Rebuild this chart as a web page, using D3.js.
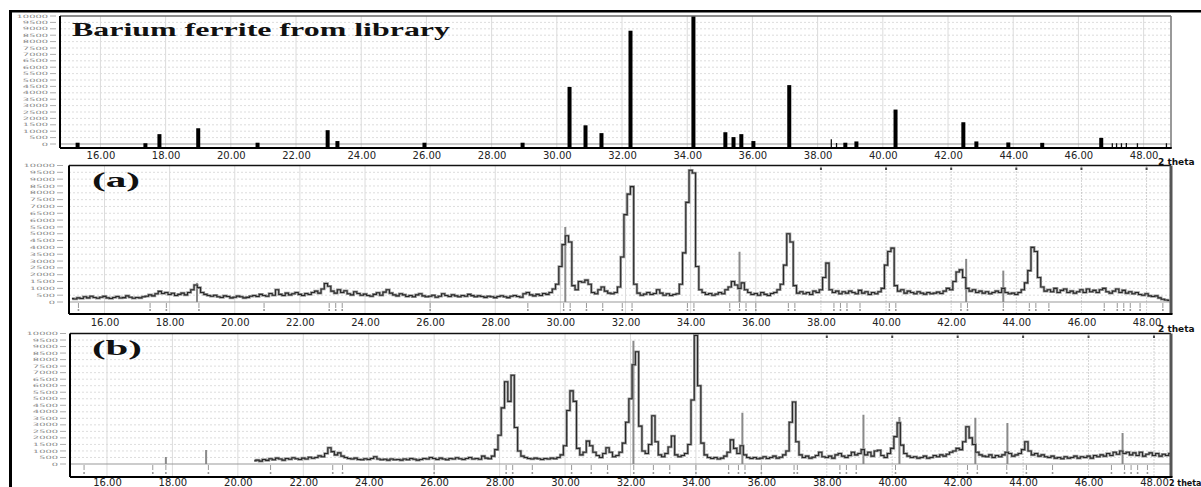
<!DOCTYPE html>
<html>
<head>
<meta charset="utf-8">
<script src="https://cdn.jsdelivr.net/npm/d3@7"></script>
<style>
  body{margin:0;background:#fff;}
  svg{display:block;}
  .xlab text{font-family:"DejaVu Sans",sans-serif;font-size:10px;fill:#222;}
  .ylab{font-family:"DejaVu Sans",sans-serif;font-size:9px;fill:#8a8a8a;}
  .theta{font-family:"DejaVu Sans",sans-serif;font-weight:bold;fill:#111;}
  .title{font-family:"Liberation Serif",serif;font-weight:bold;fill:#111;}
</style>
</head>
<body>
<svg id="chart" width="1201" height="487"></svg>
<script>
// ---------- data ----------
var xTicks = [16, 18, 20, 22, 24, 26, 28, 30, 32, 34, 36, 38, 40, 42, 44, 46, 48];
var yTicks = [0, 500, 1000, 1500, 2000, 2500, 3000, 3500, 4000, 4500, 5000,
              5500, 6000, 6500, 7000, 7500, 8000, 8500, 9000, 9500, 10000];

// library reflections (2 theta, intensity)
var libPos = [15.3, 17.38, 17.81, 19.0, 20.82, 22.97, 23.27, 25.94, 28.95, 30.39, 30.88, 31.37,
              32.26, 34.19, 35.17, 35.42, 35.66, 36.03, 37.13, 38.85, 39.19, 40.39, 42.47,
              42.87, 43.85, 44.89, 46.7];
var libInt = [100, 60, 770, 1230, 100, 1080, 230, 100, 100, 4460, 1460, 850,
              8850, 10000, 920, 540, 770, 230, 4600, 100, 200, 2690, 1700,
              200, 120, 90, 480];
// weak library lines
var libMinorPos = [38.42, 38.58, 47.04, 47.17, 47.32, 47.47, 47.81, 48.7];
var libMinorInt = [380, 80, 60, 60, 60, 80, 60, 60];

// sample (a): step scan from 15.0, 0.1 deg steps
var scanAStart = 15.0, scanAStep = 0.1;
var scanA = [
  250, 220, 300, 260, 380, 300, 420, 330, 280, 350,
  410, 300, 260, 330, 400, 290, 320, 450, 350, 280,
  330, 300, 380, 420, 520, 450, 600, 780, 620, 700,
  550, 640, 480, 560, 650, 520, 700, 900, 1250, 1050,
  700, 560, 480, 420, 500, 380, 330, 450, 400, 300,
  350, 430, 380, 300, 340, 420, 480, 400, 560, 480,
  420, 620, 500, 900, 560, 480, 650, 520, 600, 700,
  560, 480, 620, 550, 700, 800, 650, 950, 1350, 1150,
  800, 650, 900, 700, 820, 600, 520, 750, 620, 500,
  580, 480, 420, 560, 680, 500, 720, 900, 650, 520,
  450, 600, 520, 400, 480, 380, 520, 600, 450, 380,
  420, 500, 350, 420, 600, 480, 400, 520, 450, 380,
  480, 420, 560, 470, 380, 450, 400, 340, 420, 380,
  320, 400, 460, 380, 320, 420, 480, 400, 350, 600,
  700, 520, 450, 560, 480, 620, 560, 700, 950, 1300,
  2600, 4200, 4850, 4400, 1200, 900, 1500, 1450, 1600, 1300,
  700, 600, 900, 1100, 800, 650, 600, 700, 1100, 3300,
  6400, 7900, 8450, 1300, 650, 500, 580, 700, 550, 620,
  900, 650, 500, 600, 480, 550, 600, 1300, 3600, 7300,
  9650, 9450, 2600, 900, 700, 550, 620, 500, 580, 700,
  600, 900, 1100, 1500, 1250, 1000, 1400, 900, 700, 550,
  620, 500, 700, 560, 480, 620, 700, 900, 1300, 2700,
  5000, 4400, 1200, 650, 750, 600, 700, 550, 800, 700,
  900, 1800, 2850, 900, 700, 800, 600, 750, 650, 800,
  700, 600, 850, 650, 750, 550, 700, 600, 750, 1000,
  2700, 3700, 3950, 1200, 800, 900, 650, 800, 700, 600,
  750, 650, 580, 700, 600, 650, 720, 620, 800, 1000,
  900, 1500, 2200, 2350, 1800, 1000, 800, 900, 700, 800,
  650, 750, 600, 700, 800, 700, 1000, 700, 600, 650,
  550, 700, 900, 1400, 2300, 4000, 3700, 1800, 1100, 800,
  900, 750, 1000, 700, 850, 950, 700, 800, 650, 750,
  900, 700, 950, 750, 850, 700, 900, 1000, 750, 650,
  800, 950, 700, 850, 650, 750, 600, 700, 550, 500,
  600, 450, 400, 450, 300, 200, 150, 120
];
var sticksA = [[18.84, 1400], [30.15, 5500], [35.5, 3680], [42.46, 3160], [43.6, 2300]];
var markersA = [15.2, 17.4, 17.9, 18.9, 20.9, 22.9, 23.1, 23.3, 26.0, 29.0, 30.1, 30.3, 30.8,
                31.3, 31.9, 32.2, 33.9, 34.1, 35.2, 35.5, 35.7, 36.0, 37.0, 37.2, 38.4, 38.6,
                38.8, 39.2, 40.1, 40.3, 42.3, 42.5, 43.6, 44.4, 44.6, 45.0, 46.7, 47.1, 47.3,
                47.5, 47.8, 48.5];

// sample (b): step scan from 20.5, 0.1 deg steps
var scanBStart = 20.5, scanBStep = 0.1;
var scanB = [
  250, 300, 220, 350, 280,
  400, 320, 450, 380, 300, 420, 360, 480, 400, 350,
  450, 380, 520, 440, 500, 620, 560, 800, 1250, 950,
  700, 850, 600, 500, 420, 380, 450, 350, 320, 400,
  350, 420, 550, 380, 320, 360, 300, 380, 320, 350,
  300, 380, 330, 420, 360, 300, 350, 420, 380, 500,
  420, 350, 450, 380, 330, 420, 380, 480, 400, 350,
  420, 500, 380, 420, 360, 600, 450, 400, 600, 1100,
  2200, 4300, 6300, 4800, 6800, 2800, 1000, 600, 500, 420,
  380, 450, 400, 350, 420, 380, 450, 400, 500, 700,
  1400, 4100, 5600, 4800, 1200, 700, 900, 1750, 1400, 900,
  650, 500, 800, 1250, 900, 550, 650, 900, 1600, 3200,
  5000, 7600, 8600, 2900, 1000, 800, 1500, 3700, 1700, 700,
  550, 800, 1300, 2150, 700, 550, 650, 800, 1500, 4900,
  9850, 6000, 1600, 700, 500, 420, 500, 380, 450, 600,
  900, 1850, 1200, 800, 1400, 700, 500, 420, 500, 400,
  450, 550, 420, 500, 600, 450, 520, 700, 1000, 3200,
  4750, 1700, 700, 500, 600, 450, 520, 650, 900, 550,
  500, 600, 450, 700, 800, 600, 500, 650, 900, 700,
  800, 1100, 700, 900, 600, 1000, 1050, 650, 500, 800,
  1200, 2100, 3150, 1450, 800, 600, 500, 550, 450, 500,
  600, 450, 500, 650, 550, 700, 600, 750, 900, 1000,
  1200, 1100, 1700, 2850, 2000, 1500, 900, 700, 600, 550,
  700, 500, 650, 550, 700, 900, 800, 600, 700, 800,
  1100, 1700, 1000, 700, 800, 600, 700, 550, 500, 600,
  450, 500, 400, 550, 450, 500, 600, 450, 550, 500,
  600, 450, 650, 550, 700, 600, 800, 650, 900, 750,
  1000, 800, 900, 700, 850, 650, 900, 600, 750, 850,
  650, 800, 600, 750, 650, 800, 700
];
var sticksB = [[17.8, 540], [19.03, 1080], [32.09, 9450], [35.42, 3920], [39.12, 3770],
               [40.22, 3600], [42.54, 3540], [43.52, 3150], [47.04, 2380]];
var markersB = [15.3, 17.4, 17.8, 19.1, 21.0, 22.9, 23.2, 26.0, 28.2, 28.4, 29.0, 30.2, 30.8,
                31.3, 32.1, 32.7, 33.2, 34.0, 35.0, 35.3, 35.5, 36.0, 37.0, 37.1, 38.4, 38.6,
                38.9, 40.1, 42.3, 42.6, 43.5, 44.1, 44.9, 46.7, 47.1, 47.3, 47.5, 47.8];

// ---------- layout ----------
var svg = d3.select('#chart');

var panels = [
  {id: 'lib', left: 60, right: 1171, top: 16, bottom: 148, zeroY: 144, domain: [14.76, 48.84],
   labelPad: 3.5, labRight: 48, title: 'Barium ferrite from library', titleX: 72, titleY: 35.5,
   titleSize: 18, titleLen: 378, thetaX: 1158, thetaY: 164.5, thetaSize: 9,
   topColor: '#666', rightColor: '#777', rightW: 1.5},
  {id: 'a', left: 69, right: 1171, top: 165.5, bottom: 314, zeroY: 302, domain: [14.91, 48.75],
   labelPad: 4.5, labRight: 55, title: '(a)', titleX: 92, titleY: 187, titleSize: 22, titleLen: 48,
   thetaX: 1158, thetaY: 331.5, thetaSize: 9, topColor: '#111', rightColor: '#555', rightW: 3,
   scan: scanA, start: scanAStart, step: scanAStep, sticks: sticksA, markers: markersA},
  {id: 'b', left: 70, right: 1171, top: 333.5, bottom: 477, zeroY: 464, domain: [14.87, 48.52],
   labelPad: 1.5, labRight: 58, title: '(b)', titleX: 92, titleY: 355, titleSize: 22, titleLen: 50,
   thetaX: 1169, thetaY: 485.5, thetaSize: 8, topColor: '#111', rightColor: '#555', rightW: 3,
   scan: scanB, start: scanBStart, step: scanBStep, sticks: sticksB, markers: markersB}
];

panels.forEach(function(p){
  var x = d3.scaleLinear().domain(p.domain).range([p.left, p.right]);
  var y = d3.scaleLinear().domain([0, 10000]).range([p.zeroY, p.top]);
  var g = svg.append('g').attr('class', 'panel-' + p.id);

  g.append('clipPath').attr('id', 'clip-' + p.id)
    .append('rect')
    .attr('x', p.left).attr('y', p.top - 1)
    .attr('width', p.right - p.left).attr('height', p.bottom - p.top + 1);

  // Horizontal dotted grid
  g.selectAll('.hgrid')
    .data(yTicks.filter(function(d){ return d > 0 && d < 10000; }))
    .enter().append('line')
    .attr('x1', p.left).attr('x2', p.right)
    .attr('y1', function(d){ return y(d); }).attr('y2', function(d){ return y(d); })
    .attr('stroke', '#d4d4d4').attr('stroke-width', 0.8).attr('stroke-dasharray', '2,2');

  // Vertical grid
  g.selectAll('.vgrid')
    .data(xTicks)
    .enter().append('line')
    .attr('x1', function(d){ return x(d); }).attr('x2', function(d){ return x(d); })
    .attr('y1', p.top).attr('y2', p.bottom)
    .attr('stroke', function(d){ return (p.id !== 'lib' && d >= 38) ? '#aaa' : '#dcdcdc'; })
    .attr('stroke-width', 1)
    .attr('stroke-dasharray', function(d){ return (p.id !== 'lib' && d >= 38) ? '1,2' : null; });

  if(p.id !== 'lib'){
    g.selectAll('.topmark')
      .data(xTicks.filter(function(d){ return d >= 38; }))
      .enter().append('rect')
      .attr('x', function(d){ return x(d) - 1; })
      .attr('y', p.top + 2).attr('width', 2).attr('height', 2.5)
      .attr('fill', '#444');
  }

  // Zero line
  g.append('line')
    .attr('x1', p.left).attr('x2', p.right)
    .attr('y1', y(0)).attr('y2', y(0))
    .attr('stroke', '#999').attr('stroke-width', 1);

  var plot = g.append('g').attr('clip-path', 'url(#clip-' + p.id + ')');

  if(p.id === 'lib'){
    // Library stick pattern
    plot.selectAll('.bar')
      .data(libPos)
      .enter().append('rect')
      .attr('x', function(d){ return x(d) - 2; })
      .attr('width', 4)
      .attr('y', function(d, i){ return y(libInt[i]); })
      .attr('height', function(d, i){ return p.bottom - y(libInt[i]); })
      .attr('fill', '#000');

    plot.selectAll('.minor')
      .data(libMinorPos)
      .enter().append('line')
      .attr('x1', function(d){ return x(d); }).attr('x2', function(d){ return x(d); })
      .attr('y1', p.bottom)
      .attr('y2', function(d, i){ return y(libMinorInt[i]); })
      .attr('stroke', '#111').attr('stroke-width', 1.3);
  } else {
    // Peak markers below zero line
    plot.selectAll('.marker')
      .data(p.markers)
      .enter().append('line')
      .attr('x1', function(d){ return x(d); }).attr('x2', function(d){ return x(d); })
      .attr('y1', y(0) + 1).attr('y2', y(0) + 6)
      .attr('stroke', '#999').attr('stroke-width', 1);
    plot.selectAll('.mdot')
      .data(p.markers)
      .enter().append('rect')
      .attr('x', function(d){ return x(d) - 0.8; })
      .attr('y', p.bottom - 5).attr('width', 1.6).attr('height', 2)
      .attr('fill', '#999');

    // Identified peak sticks
    plot.selectAll('.stick')
      .data(p.sticks)
      .enter().append('line')
      .attr('x1', function(d){ return x(d[0]); }).attr('x2', function(d){ return x(d[0]); })
      .attr('y1', y(0))
      .attr('y2', function(d){ return y(d[1]); })
      .attr('stroke', '#8a8a8a').attr('stroke-width', 2);

    var line = d3.line()
      .x(function(d, i){ return x(p.start + i * p.step); })
      .y(function(d){ return y(d); })
      .curve(d3.curveStep);

    plot.append('path')
      .datum(p.scan)
      .attr('d', line)
      .attr('fill', 'none')
      .attr('stroke', '#9a9a9a').attr('stroke-width', 2.6);

    plot.append('path')
      .datum(p.scan)
      .attr('d', line)
      .attr('fill', 'none')
      .attr('stroke', '#2a2a2a').attr('stroke-width', 1.1);
  }

  // Y labels (squashed like the source)
  var yl = g.selectAll('.ytick')
    .data(yTicks)
    .enter().append('g')
    .attr('class', 'ytick');
  yl.append('text')
    .attr('class', 'ylab')
    .attr('text-anchor', 'end')
    .attr('transform', function(d){ return 'translate(' + p.labRight + ',' + y(d) + ') scale(1.1,0.5)'; })
    .attr('dy', '0.35em')
    .text(function(d){ return d; });
  yl.append('line')
    .attr('x1', p.labRight + 2).attr('x2', p.labRight + 8)
    .attr('y1', function(d){ return y(d); }).attr('y2', function(d){ return y(d); })
    .attr('stroke', '#999').attr('stroke-width', 0.8);

  // X axis labels
  var xAxis = d3.axisBottom(x)
    .tickValues(xTicks)
    .tickSize(0)
    .tickPadding(p.labelPad)
    .tickFormat(d3.format('.2f'));
  var xg = g.append('g')
    .attr('class', 'xlab')
    .attr('transform', 'translate(0,' + p.bottom + ')')
    .call(xAxis);
  xg.select('.domain').remove();

  // Frame
  g.append('line')
    .attr('x1', p.left).attr('x2', p.right)
    .attr('y1', p.top).attr('y2', p.top)
    .attr('stroke', p.topColor).attr('stroke-width', 1.5);
  g.append('line')
    .attr('x1', p.right).attr('x2', p.right)
    .attr('y1', p.top).attr('y2', p.bottom)
    .attr('stroke', p.rightColor).attr('stroke-width', p.rightW);
  g.append('line')
    .attr('x1', p.left).attr('x2', p.left)
    .attr('y1', p.top).attr('y2', p.bottom)
    .attr('stroke', '#000').attr('stroke-width', 2);
  g.append('line')
    .attr('x1', p.left).attr('x2', p.right + p.rightW / 2)
    .attr('y1', p.bottom).attr('y2', p.bottom)
    .attr('stroke', '#000').attr('stroke-width', 2);

  // Titles
  g.append('text')
    .attr('class', 'title')
    .attr('x', p.titleX).attr('y', p.titleY)
    .attr('font-size', p.titleSize)
    .attr('textLength', p.titleLen)
    .attr('lengthAdjust', 'spacingAndGlyphs')
    .text(p.title);

  g.append('text')
    .attr('class', 'theta')
    .attr('x', p.thetaX).attr('y', p.thetaY)
    .attr('font-size', p.thetaSize)
    .text('2 theta');
});

// Outer frame
svg.append('line')
  .attr('x1', 10.5).attr('x2', 10.5).attr('y1', 10).attr('y2', 487)
  .attr('stroke', '#000').attr('stroke-width', 3);
svg.append('line')
  .attr('x1', 9).attr('x2', 1201).attr('y1', 11.3).attr('y2', 11.3)
  .attr('stroke', '#000').attr('stroke-width', 2.5);
</script>
</body>
</html>
